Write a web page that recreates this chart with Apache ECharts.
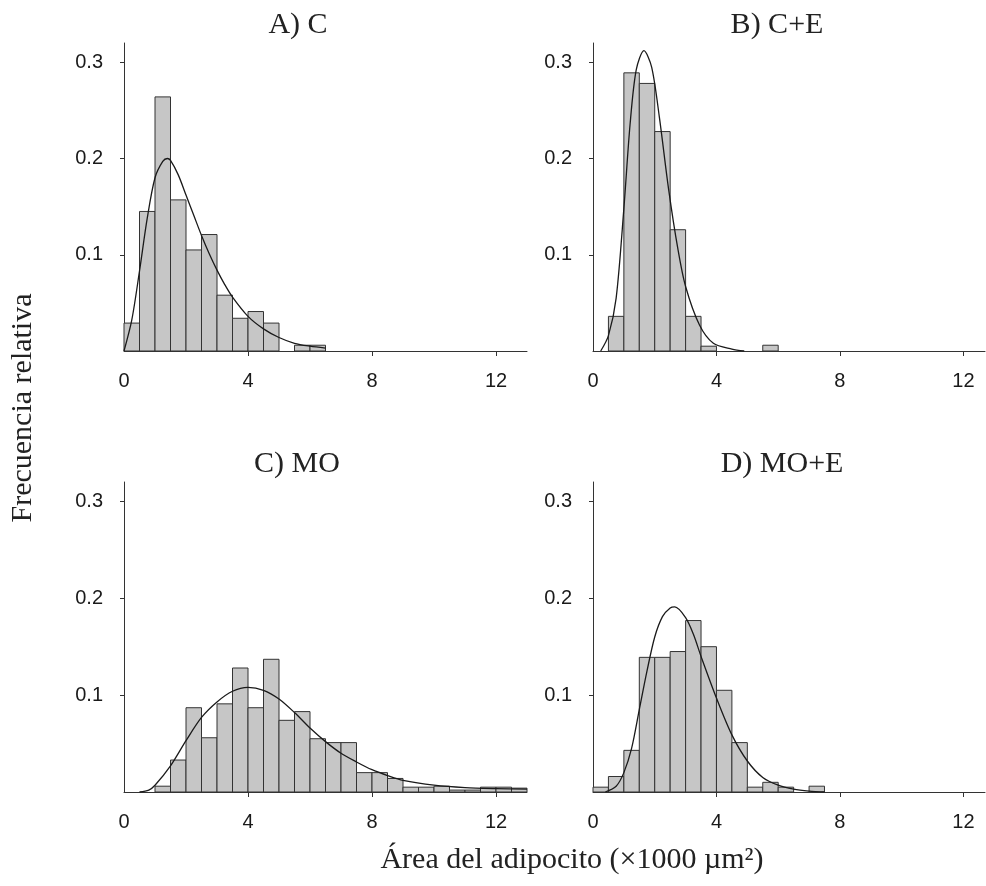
<!DOCTYPE html>
<html>
<head>
    <meta charset="UTF-8">
    <title>Área del adipocito</title>
    <script src="https://cdn.jsdelivr.net/npm/echarts@6/dist/echarts.min.js"></script>
</head>
<body style="margin: 0; padding: 0; background: #fff;">
    <div id="container" style="width: 986px; height: 886px;"></div>
    <script>
        // left edge of each histogram bin (x1000 µm2), bins are 0.5 wide
        var binLeft = [0, 0.5, 1, 1.5, 2, 2.5, 3, 3.5, 4, 4.5, 5, 5.5, 6, 6.5,
                       7, 7.5, 8, 8.5, 9, 9.5, 10, 10.5, 11, 11.5, 12, 12.5];
        var binWidth = 0.5;

        // relative frequency per bin
        var freqA = [0.029, 0.145, 0.264, 0.157, 0.105, 0.121, 0.058, 0.034, 0.041, 0.029, 0, 0.006, 0.006,
                     0, 0, 0, 0, 0, 0, 0, 0, 0, 0, 0, 0, 0];
        var freqB = [0, 0.036, 0.289, 0.278, 0.228, 0.126, 0.036, 0.005, 0, 0, 0, 0.006, 0,
                     0, 0, 0, 0, 0, 0, 0, 0, 0, 0, 0, 0, 0];
        var freqC = [0, 0, 0.006, 0.033, 0.087, 0.056, 0.091, 0.128, 0.087, 0.137, 0.074, 0.083, 0.055,
                     0.051, 0.051, 0.020, 0.020, 0.014, 0.005, 0.005, 0.006, 0.002, 0.002, 0.005, 0.005, 0.004];
        var freqD = [0.005, 0.016, 0.043, 0.139, 0.139, 0.145, 0.177, 0.150, 0.105, 0.051, 0.005, 0.010, 0.005,
                     0, 0.006, 0, 0, 0, 0, 0, 0, 0, 0, 0, 0, 0];

        // fitted curves, points [x, y]
        var curveA = [[0, 0], [0.25, 0.032], [0.5, 0.083], [0.75, 0.138], [1, 0.180], [1.25, 0.197],
                      [1.4, 0.200], [1.5, 0.198], [1.75, 0.183], [2, 0.162], [2.25, 0.141], [2.5, 0.120],
                      [2.75, 0.101], [3, 0.084], [3.25, 0.069], [3.5, 0.056], [4, 0.036], [4.5, 0.023],
                      [5, 0.014], [5.5, 0.008], [6, 0.005], [6.5, 0.003]];
        var curveB = [[0.25, 0], [0.5, 0.016], [0.75, 0.055], [1, 0.148], [1.2, 0.235], [1.4, 0.292],
                      [1.65, 0.312], [1.9, 0.295], [2.15, 0.243], [2.45, 0.168], [2.75, 0.106], [3, 0.067],
                      [3.45, 0.027], [3.9, 0.008], [4.5, 0.002], [4.9, 0]];
        var curveC = [[0.5, 0], [0.8, 0.002], [1, 0.007], [1.5, 0.027], [2, 0.053], [2.5, 0.077],
                      [3, 0.093], [3.5, 0.104], [4, 0.108], [4.5, 0.105], [5, 0.096], [5.5, 0.082],
                      [6, 0.066], [6.5, 0.052], [7, 0.040], [7.5, 0.031], [8, 0.023], [8.5, 0.017],
                      [9, 0.012], [10, 0.007], [11, 0.0045], [12, 0.0035], [13, 0.003]];
        var curveD = [[0.4, 0], [0.75, 0.006], [1, 0.02], [1.25, 0.045], [1.5, 0.085], [1.75, 0.125],
                      [2, 0.16], [2.25, 0.181], [2.5, 0.19], [2.65, 0.191], [3, 0.18], [3.25, 0.163],
                      [3.5, 0.14], [4, 0.097], [4.5, 0.059], [5, 0.032], [5.5, 0.015], [6, 0.007],
                      [6.5, 0.003], [7, 0.001], [7.5, 0]];

        var panelTitles = ['A) C', 'B) C+E', 'C) MO', 'D) MO+E'];
        var xTicks = [0, 4, 8, 12];
        var yTicks = [0.1, 0.2, 0.3];
        var xName = 'Área del adipocito (×1000 µm²)';
        var yName = 'Frecuencia relativa';

        var freqs = [freqA, freqB, freqC, freqD];
        var curves = [curveA, curveB, curveC, curveD];

        var grids = [
            { left: 124, top: 43, width: 403, height: 308 },
            { left: 593, top: 43, width: 392, height: 308 },
            { left: 124, top: 482, width: 403, height: 310 },
            { left: 593, top: 482, width: 392, height: 310 }
        ];
        var xMax = [13, 12.7, 13, 12.7];
        var titlePos = [[298, 25], [777, 25], [297, 464], [782, 464]];

        var serif = '"Liberation Serif", "DejaVu Serif", serif';
        var sans = '"Liberation Sans", Arial, sans-serif';

        function renderBar(params, api) {
            var x0 = api.value(0);
            var h = api.value(1);
            if (!h) return null;
            var p0 = api.coord([x0, h]);
            var p1 = api.coord([x0 + binWidth, 0]);
            return {
                type: 'rect',
                shape: { x: p0[0], y: p0[1], width: p1[0] - p0[0], height: p1[1] - p0[1] },
                style: { fill: '#c6c6c6', stroke: '#333', lineWidth: 1 }
            };
        }

        var xAxes = [], yAxes = [], series = [], graphics = [];
        for (var i = 0; i < 4; i++) {
            xAxes.push({
                type: 'value', gridIndex: i, min: 0, max: xMax[i],
                splitLine: { show: false },
                axisLine: { show: true, onZero: false, lineStyle: { color: '#333', width: 1 } },
                axisTick: { show: true, customValues: [4, 8, 12], length: 5, lineStyle: { color: '#333' } },
                axisLabel: {
                    customValues: xTicks, margin: 20, fontSize: 20, color: '#1a1a1a', fontFamily: sans
                }
            });
            yAxes.push({
                type: 'value', gridIndex: i, min: 0, max: 0.32,
                splitLine: { show: false },
                axisLine: { show: true, onZero: false, lineStyle: { color: '#333', width: 1 } },
                axisTick: { show: true, customValues: yTicks, length: 4, lineStyle: { color: '#333' } },
                axisLabel: {
                    customValues: yTicks, margin: 21, fontSize: 20, color: '#1a1a1a', fontFamily: sans,
                    formatter: function (v) { return v.toFixed(1); }
                }
            });
            series.push({
                type: 'custom',
                xAxisIndex: i, yAxisIndex: i,
                renderItem: renderBar,
                encode: { x: 0, y: 1 },
                data: binLeft.map(function (b, k) { return [b, freqs[i][k]]; }),
                z: 2
            });
            series.push({
                type: 'line',
                xAxisIndex: i, yAxisIndex: i,
                data: curves[i],
                showSymbol: false,
                smooth: 0.3,
                lineStyle: { color: '#1a1a1a', width: 1.3 },
                z: 3
            });
            graphics.push({
                type: 'text', x: titlePos[i][0], y: titlePos[i][1],
                style: {
                    text: panelTitles[i], font: '30px ' + serif, fill: '#222',
                    align: 'center', verticalAlign: 'middle',
                    textAlign: 'center', textVerticalAlign: 'middle'
                }
            });
        }

        graphics.push({
            type: 'text', x: 572, y: 860,
            style: {
                text: xName, font: '30px ' + serif, fill: '#222',
                align: 'center', verticalAlign: 'middle',
                textAlign: 'center', textVerticalAlign: 'middle'
            }
        });
        graphics.push({
            type: 'text', x: 23, y: 408, rotation: Math.PI / 2,
            style: {
                text: yName, font: '30px ' + serif, fill: '#222',
                align: 'center', verticalAlign: 'middle',
                textAlign: 'center', textVerticalAlign: 'middle'
            }
        });

        var chart = echarts.init(document.getElementById('container'), null, { renderer: 'canvas' });
        chart.setOption({
            animation: false,
            backgroundColor: '#fff',
            grid: grids,
            xAxis: xAxes,
            yAxis: yAxes,
            series: series,
            graphic: graphics
        });
    </script>
</body>
</html>
